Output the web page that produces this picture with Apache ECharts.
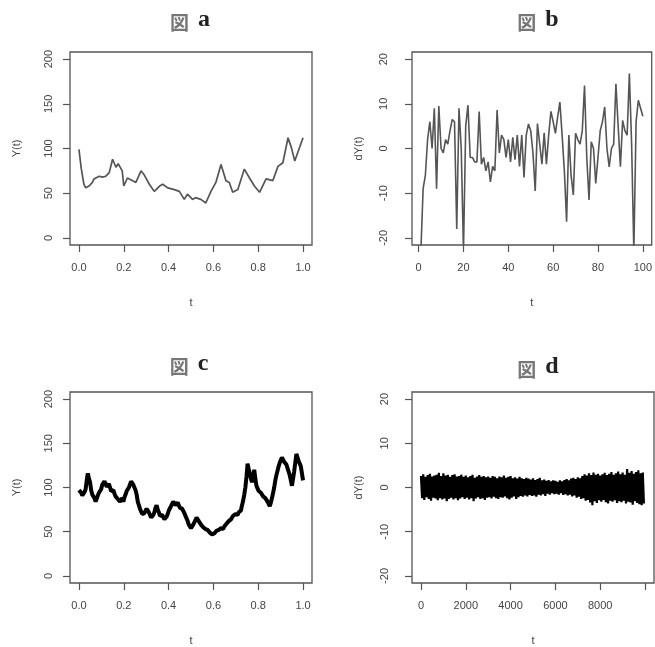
<!DOCTYPE html>
<html><head><meta charset="utf-8">
<script src="https://cdn.jsdelivr.net/npm/echarts@6/dist/echarts.min.js"></script>
<style>html,body{margin:0;padding:0;background:#fff}#c{width:655px;height:647px}</style>
</head><body><div id="c"></div>
<script>
// ---- data ----
const titles = ['a', 'b', 'c', 'd'];
const tA = [0, 0.01, 0.022, 0.03, 0.045, 0.06, 0.067, 0.075, 0.09, 0.105, 0.12, 0.135, 0.15, 0.157, 0.165, 0.175, 0.18, 0.193, 0.2, 0.216, 0.24, 0.254, 0.277, 0.29, 0.314, 0.336, 0.36, 0.374, 0.396, 0.426, 0.448, 0.47, 0.484, 0.507, 0.52, 0.544, 0.566, 0.589, 0.611, 0.634, 0.656, 0.671, 0.686, 0.709, 0.738, 0.761, 0.783, 0.806, 0.835, 0.865, 0.888, 0.91, 0.933, 0.948, 0.963, 1.0];
const yA = [99, 78, 60, 56, 58, 62, 66, 64, 69, 68, 69, 73, 88, 90, 79, 83, 83, 75, 58, 67, 64, 62, 75, 71, 60, 52, 58, 60, 56, 54, 52, 43, 49, 43, 45, 43, 39, 52, 62, 82, 64, 62, 51, 54, 77, 67, 58, 51, 66, 64, 80, 84, 112, 101, 86, 112];
const yB = [-23, -9, -6, 2, 6, 0, 9, -9, 9.5, 0, -1, 2, 1, 4, 6.5, 6, -18, 9, 0, -23,
            5, 9.7, -2, -2, -3, -3, 8.3, -3.5, -2, -5, -3, -7.5, -4, -5, 8.6, -1, 3, 2, -2, 2,
            -3, 2.5, -2.5, 3, -4, 3, -6.5, 3, 5.5, 4, -1, -9.5, 5.6, 1, -3.5, 3.5, -3.5, 3, 8.3, 6,
            3.4, 7, 10.4, 3, -5, -16.4, 3, -6, -10.4, 3.4, 2, 1, 4, 14.1, -2, -11.5, 1.5, 0, -7.8, -2,
            4, 6, 9.3, 0, -4.1, 0, 1, 14.5, 5, -4.1, 6.3, 4, 3, 16.8, 1, -23, 6, 10.8, 9, 7.2];
const yC = [97, 99, 94, 91, 92, 95, 98, 108, 116, 110,
            106, 97, 92, 90, 88, 84, 86, 91, 94, 95,
            98, 103, 104, 107, 106, 101, 102, 104, 100, 96,
            95, 97, 93, 90, 90, 87, 88, 84, 85, 88,
            84, 89, 92, 96, 98, 100, 102, 107, 106, 103,
            104, 97, 92, 84, 80, 76, 74, 70, 68, 71,
            73, 76, 77, 72, 70, 66, 64, 69, 72, 77,
            80, 75, 72, 68, 66, 69, 68, 64, 63, 67,
            70, 74, 76, 79, 81, 84, 82, 80, 81, 83,
            80, 77, 78, 76, 74, 71, 70, 65, 62, 58,
            56, 54, 55, 58, 60, 63, 66, 64, 62, 60,
            58, 56, 55, 55, 53, 51, 52, 50, 49, 47,
            47, 45, 48, 50, 51, 53, 52, 50, 54, 55,
            53, 56, 57, 59, 60, 62, 63, 64, 66, 68,
            69, 70, 71, 69, 72, 74, 74, 80, 85, 92,
            100, 112, 127, 121, 116, 110, 106, 112, 120, 110,
            102, 99, 96, 98, 94, 92, 90, 92, 88, 86,
            84, 82, 79, 83, 88, 94, 100, 108, 114, 119,
            124, 128, 131, 134, 132, 129, 130, 126, 122, 118,
            114, 108, 102, 110, 118, 128, 138, 134, 130, 127,
            124, 116, 108];
const dUp = [2.6, 3.0, 2.4, 2.8, 3.1, 2.5, 2.7, 2.9, 3.3, 2.6,
             3.2, 2.7, 2.9, 2.4, 2.8, 3.0, 2.5, 2.6, 2.9, 2.4,
             2.7, 2.3, 2.6, 2.9, 2.2, 2.5, 2.8, 2.4, 2.6, 2.3,
             2.5, 2.2, 2.6, 2.4, 2.1, 2.5, 2.3, 2.7, 2.2, 2.4,
             2.6, 2.1, 2.3, 2.0, 2.4, 2.1, 1.9, 2.2, 2.0, 1.8,
             2.1, 1.7, 1.9, 2.2, 1.6, 1.8, 1.5, 1.7, 1.4, 1.6,
             1.5, 1.3, 1.6, 1.4, 1.7, 1.9, 1.6, 2.0, 2.2, 1.9,
             2.3, 2.1, 2.6, 3.0, 2.7, 3.2, 2.8, 3.4, 2.9, 3.1,
             2.7, 3.0, 3.3, 2.8, 3.1, 3.5, 2.9, 3.2, 3.6, 3.0,
             3.4, 2.9, 4.2, 3.3, 3.7, 3.1, 3.5, 3.9, 3.2, 3.4];
const dLow = [-2.4, -2.8, -2.2, -2.6, -3.0, -2.3, -2.5, -2.9, -2.4, -2.7,
              -2.5, -3.1, -2.6, -2.3, -2.7, -2.4, -2.9, -2.5, -2.2, -2.6,
              -2.3, -2.7, -2.4, -3.1, -2.5, -2.2, -2.6, -2.4, -2.8, -2.3,
              -2.2, -2.5, -2.1, -2.4, -2.6, -2.2, -2.3, -2.0, -2.4, -2.7,
              -2.3, -2.0, -2.6, -2.2, -1.9, -2.1, -1.8, -2.0, -1.7, -1.9,
              -1.8, -2.1, -1.6, -1.8, -1.5, -1.9, -1.4, -1.6, -1.3, -1.5,
              -1.4, -1.6, -1.3, -1.7, -1.5, -1.8, -1.6, -2.0, -1.8, -2.3,
              -2.1, -2.6, -2.4, -3.0, -2.8, -3.4, -4.0, -3.1, -3.5, -2.9,
              -3.2, -2.8, -3.3, -3.6, -3.0, -3.2, -2.9, -3.5, -3.1, -3.3,
              -3.0, -3.6, -3.2, -3.4, -3.9, -3.1, -3.5, -3.8, -4.0, -3.6];
const xTicksA = [0, 0.2, 0.4, 0.6, 0.8, 1.0];
const yTicksA = [0, 50, 100, 150, 200];
const xTicksB = [0, 20, 40, 60, 80, 100];
const yTicksB = [-20, -10, 0, 10, 20];
const xTicksD = [0, 2000, 4000, 6000, 8000, 10000];
const xLabelsD = [0, 2000, 4000, 6000, 8000];

// ---- build ----
const dataA = tA.map((t, i) => [t, yA[i]]);
const dataB = yB.map((v, i) => [i + 1, v]);
const dataC = yC.map((v, i) => [i / (yC.length - 1), v]);
const dataD = [];
dUp.forEach((v, k) => { dataD.push([k * 100, v]); dataD.push([k * 100 + 50, dLow[k]]); });

const txt = '#444', tick = '#555';
const grids = [
  {left: 70, top: 52, width: 242, height: 193},
  {left: 412, top: 52, width: 241, height: 193},
  {left: 70, top: 392, width: 242, height: 195},
  {left: 412, top: 392, width: 242, height: 195}
].map(g => Object.assign(g, {show: true, borderColor: '#555', borderWidth: 1.3, backgroundColor: 'transparent'}));

function xAx(i, min, max, ticks, labels, fmt) {
  return {
    type: 'value', gridIndex: i, min: min, max: max,
    axisLine: {show: false, onZero: false}, splitLine: {show: false},
    axisTick: {show: true, inside: false, length: 7, customValues: ticks, lineStyle: {color: tick, width: 1.2}},
    axisLabel: {customValues: labels, margin: 17, fontSize: 11, color: txt, fontFamily: 'Liberation Sans, Arial', formatter: fmt},
    name: 't', nameLocation: 'middle', nameGap: 52,
    nameTextStyle: {fontSize: 11, color: txt, fontFamily: 'Liberation Sans, Arial'}
  };
}
function yAx(i, min, max, ticks, name, margin) {
  return {
    type: 'value', gridIndex: i, min: min, max: max,
    axisLine: {show: false, onZero: false}, splitLine: {show: false},
    axisTick: {show: true, inside: false, length: 7, customValues: ticks, lineStyle: {color: tick, width: 1.2}},
    axisLabel: {customValues: ticks, rotate: 90, margin: margin, fontSize: 11, color: txt, fontFamily: 'Liberation Sans, Arial'},
    name: name, nameLocation: 'middle', nameGap: 48, nameRotate: 90,
    nameTextStyle: {fontSize: 11, color: txt, fontFamily: 'Liberation Sans, Arial'}
  };
}
const f1 = v => v.toFixed(1);
const f0 = v => String(Math.round(v));

function ttl(letter, cx, top) {
  return {
    text: '{k|図}{s| }{l|' + letter + '}', left: cx, top: top, textAlign: 'center',
    textStyle: {rich: {
      k: {fontSize: 19, color: '#777', fontFamily: 'Noto Sans CJK JP', verticalAlign: 'bottom'},
      s: {fontSize: 12, width: 9},
      l: {fontSize: 24, fontWeight: 'bold', color: '#222', fontFamily: 'Liberation Serif, serif'}
    }}
  };
}

const option = {
  animation: false,
  backgroundColor: '#fff',
  title: [ttl(titles[0], 185, 3), ttl(titles[1], 533, 3), ttl(titles[2], 184, 347), ttl(titles[3], 533, 350)],
  grid: grids,
  xAxis: [
    xAx(0, -0.04, 1.04, xTicksA, xTicksA, f1),
    xAx(1, -2.96, 103.96, xTicksB, xTicksB, f0),
    xAx(2, -0.04, 1.04, xTicksA, xTicksA, f1),
    xAx(3, -399.96, 10399.96, xTicksD, xLabelsD, f0)
  ],
  yAxis: [
    yAx(0, -8, 208, yTicksA, 'Y(t)', 16),
    yAx(1, -21.6, 21.6, yTicksB, 'dY(t)', 23),
    yAx(2, -8, 208, yTicksA, 'Y(t)', 16),
    yAx(3, -21.6, 21.6, yTicksB, 'dY(t)', 22)
  ],
  series: [
    {type: 'line', xAxisIndex: 0, yAxisIndex: 0, data: dataA, showSymbol: false, clip: true, lineStyle: {color: '#555', width: 1.7}},
    {type: 'line', xAxisIndex: 1, yAxisIndex: 1, data: dataB, showSymbol: false, clip: true, lineStyle: {color: '#555', width: 1.6}},
    {type: 'line', xAxisIndex: 2, yAxisIndex: 2, data: dataC, showSymbol: false, clip: true, lineStyle: {color: '#000', width: 4}},
    {type: 'line', xAxisIndex: 3, yAxisIndex: 3, data: dataD, showSymbol: false, clip: true, lineStyle: {color: '#000', width: 2.2}}
  ]
};
const chart = echarts.init(document.getElementById('c'), null, {renderer: 'canvas'});
chart.setOption(option);
</script></body></html>
